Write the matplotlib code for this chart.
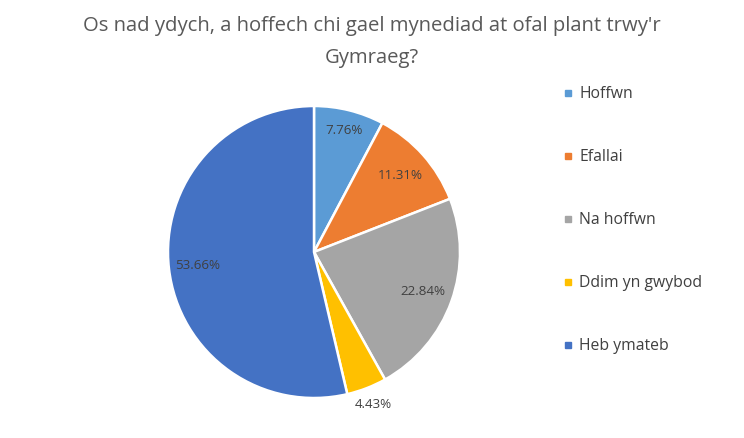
import matplotlib
matplotlib.use("Agg")
import matplotlib.pyplot as plt
from matplotlib.lines import Line2D
import numpy as np

plt.rcParams['font.family'] = ['Open Sans', 'DejaVu Sans']

labels = ['Hoffwn', 'Efallai', 'Na hoffwn', 'Ddim yn gwybod', 'Heb ymateb']
values = [7.76, 11.31, 22.84, 4.43, 53.66]
colors = ['#5B9BD5', '#ED7D31', '#A5A5A5', '#FFC000', '#4472C4']
label_dist = [0.86, 0.79, 0.79, 1.12, 0.80]

fig = plt.figure(figsize=(7.44, 4.38), dpi=100)
W, H = 744, 438
cx, cy, r = 314, 252, 146
ax = fig.add_axes([(cx - r) / W, (H - cy - r) / H, 2 * r / W, 2 * r / H])

wedges, texts, autotexts = ax.pie(values, colors=colors, startangle=90, counterclock=False,
                                  autopct='%1.2f%%', pctdistance=0.8,
                                  wedgeprops=dict(edgecolor='white', linewidth=1.8),
                                  textprops=dict(color='#404040', fontsize=9.6))
for w, t, d in zip(wedges, autotexts, label_dist):
    ang = np.deg2rad((w.theta1 + w.theta2) / 2)
    t.set_position((d * np.cos(ang), d * np.sin(ang)))
ax.set_xlim(-1, 1)
ax.set_ylim(-1, 1)

fig.text(372 / W, 1 - 42 / H, "Os nad ydych, a hoffech chi gael mynediad at ofal plant trwy'r\nGymraeg?",
         ha='center', va='center', fontsize=14.6, color='#595959', linespacing=1.75)

handles = [Line2D([0], [0], marker='s', linestyle='none', markersize=5,
                  markerfacecolor=c, markeredgecolor=c) for c in colors]
fig.legend(handles, labels, loc='upper left', bbox_to_anchor=(548 / W, 1 - 72 / H),
           frameon=False, fontsize=11.3, labelspacing=3.0, handlelength=0.8,
           handletextpad=0.3, labelcolor='#404040')

fig.savefig('out.png', dpi=100)
